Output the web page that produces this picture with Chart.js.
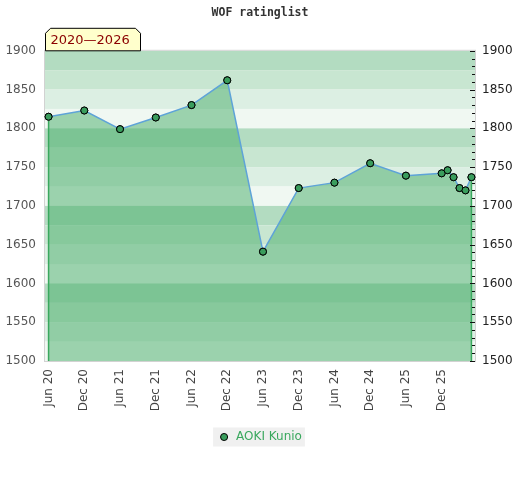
<!DOCTYPE html>
<html>
<head>
<meta charset="utf-8">
<script src="https://cdn.jsdelivr.net/npm/chart.js@4/dist/chart.umd.min.js"></script>
<style>
  html, body { margin: 0; padding: 0; background: #fff; }
  #wrap { width: 520px; height: 480px; }
</style>
</head>
<body>
<div id="wrap"><canvas id="rating"></canvas></div>
<script>
// rating list dates (YYYY-MM) and ratings
const listDates = ['2020-06', '2020-12', '2021-06', '2021-12', '2022-06', '2022-12',
  '2023-06', '2023-12', '2024-06', '2024-12', '2025-06', '2025-12',
  '2026-01', '2026-02', '2026-03', '2026-04', '2026-05'];
const ratings = [1815, 1823, 1799, 1814, 1830, 1862, 1641, 1723, 1730, 1755, 1739, 1742,
  1746, 1737, 1723, 1720, 1737];
const tickLabels = ['Jun 20', 'Dec 20', 'Jun 21', 'Dec 21', 'Jun 22', 'Dec 22',
  'Jun 23', 'Dec 23', 'Jun 24', 'Dec 24', 'Jun 25', 'Dec 25'];
const playerName = 'AOKI Kunio';
const periodLabel = '2020—2026';

// months since Jun 2020
function monthIndex(str) {
  const parts = str.split('-');
  return (parseInt(parts[0]) - 2020) * 12 + (parseInt(parts[1]) - 6);
}

const points = listDates.map((d, i) => ({x: monthIndex(d), y: ratings[i]}));

const bandShades = ['#b3dcc1', '#c8e6d1', '#dcefe3', '#f0f8f2'];

const backgroundPlugin = {
  id: 'bands',
  beforeDraw(chart) {
    const ctx = chart.ctx;
    // grey box behind the legend
    const hb = chart.legend.legendHitBoxes;
    if (hb && hb.length) {
      const b = hb[0];
      const cy = b.top + b.height / 2;
      ctx.save();
      ctx.fillStyle = '#f0f0f0';
      ctx.fillRect(b.left - 5, cy - 9.5, b.width + 8, 19);
      ctx.restore();
    }
  },
  beforeDatasetsDraw(chart) {
    const ctx = chart.ctx;
    const area = chart.chartArea;
    const y = chart.scales.y;
    ctx.save();
    ctx.beginPath();
    ctx.rect(area.left, area.top, area.right - area.left, area.bottom - area.top);
    ctx.clip();
    for (let v = y.max; v > y.min; v -= 25) {
      const k = Math.round((y.max - v) / 25) % 4;
      const top = y.getPixelForValue(v);
      const bot = y.getPixelForValue(v - 25);
      ctx.fillStyle = bandShades[k];
      ctx.fillRect(area.left, top, area.right - area.left, bot - top);
    }
    ctx.restore();
    ctx.save();
    ctx.strokeStyle = '#d2d2d2';
    ctx.lineWidth = 1;
    ctx.strokeRect(area.left - 0.5, area.top - 0.5, area.right - area.left + 1, area.bottom - area.top + 1);
    ctx.restore();
  },
  afterDatasetsDraw(chart) {
    const ctx = chart.ctx;
    const area = chart.chartArea;
    const meta = chart.getDatasetMeta(0);
    const first = meta.data[0];
    const last = meta.data[meta.data.length - 1];
    ctx.save();
    ctx.strokeStyle = '#3aa85e';
    ctx.lineWidth = 1.5;
    [first, last].forEach(p => {
      ctx.beginPath();
      ctx.moveTo(p.x, p.y + 4);
      ctx.lineTo(p.x, area.bottom);
      ctx.stroke();
    });
    // minor ticks for the right axis
    const y2 = chart.scales.y2;
    ctx.strokeStyle = '#111';
    ctx.lineWidth = 1;
    for (let v = y2.min; v <= y2.max; v += 10) {
      const py = Math.round(y2.getPixelForValue(v)) + 0.5;
      const len = v % 50 === 0 ? 5 : 3;
      ctx.beginPath();
      ctx.moveTo(area.right - len, py);
      ctx.lineTo(area.right, py);
      ctx.stroke();
    }
    ctx.restore();
    // redraw points above the edge lines
    meta.data.forEach(p => p.draw(ctx, area));
  },
  afterDraw(chart) {
    const ctx = chart.ctx;
    const area = chart.chartArea;
    const l = area.left + 0.5, r = area.left + 95.5, b = area.top, t = area.top - 22.5, c = 5;
    ctx.save();
    ctx.beginPath();
    ctx.moveTo(l, b);
    ctx.lineTo(l, t + c);
    ctx.lineTo(l + c, t);
    ctx.lineTo(r - c, t);
    ctx.lineTo(r, t + c);
    ctx.lineTo(r, b);
    ctx.closePath();
    ctx.fillStyle = '#ffffcc';
    ctx.fill();
    ctx.strokeStyle = '#000';
    ctx.lineWidth = 1;
    ctx.stroke();
    ctx.fillStyle = '#8b0000';
    ctx.font = '13px "DejaVu Sans"';
    ctx.textBaseline = 'middle';
    ctx.fillText(periodLabel, l + 5, t + 12);
    ctx.restore();
  }
};

const plainNumber = v => String(v);

const ctx = document.getElementById('rating').getContext('2d');
new Chart(ctx, {
  type: 'line',
  data: {
    datasets: [{
      label: playerName,
      data: points,
      borderColor: '#5ea3d8',
      borderWidth: 1.5,
      backgroundColor: 'rgba(69, 172, 103, 0.5)',
      fill: 'start',
      tension: 0,
      pointRadius: 3.5,
      pointBackgroundColor: '#3a9d5d',
      pointBorderColor: '#000',
      pointBorderWidth: 1,
      clip: false
    }]
  },
  options: {
    responsive: true,
    maintainAspectRatio: false,
    animation: false,
    layout: { padding: { bottom: 27 } },
    plugins: {
      title: {
        display: true,
        text: 'WOF ratinglist',
        color: '#333',
        font: { family: '"DejaVu Sans Mono"', weight: 'bold', size: 11.5 },
        padding: { top: 6, bottom: 31 }
      },
      legend: {
        position: 'bottom',
        labels: {
          usePointStyle: true,
          pointStyle: 'circle',
          boxWidth: 12,
          boxHeight: 5,
          color: '#3aa85e',
          font: { family: '"DejaVu Sans"', size: 12 },
          padding: 10
        }
      },
      tooltip: { enabled: false }
    },
    scales: {
      x: {
        type: 'linear',
        min: -0.6,
        max: 71.6,
        afterBuildTicks(scale) {
          scale.ticks = tickLabels.map((t, i) => ({value: i * 6}));
        },
        afterFit(scale) { scale.height = 60; },
        ticks: {
          minRotation: 90,
          maxRotation: 90,
          padding: 8,
          color: '#444',
          font: { family: '"DejaVu Sans"', size: 12 },
          callback: (v, i) => tickLabels[i]
        },
        grid: { display: false, drawTicks: false },
        border: { display: false }
      },
      y: {
        position: 'left',
        min: 1500,
        max: 1900,
        afterFit(scale) { scale.width = 45; },
        ticks: {
          stepSize: 50,
          padding: 9,
          color: '#555',
          font: { family: '"DejaVu Sans"', size: 12 },
          callback: plainNumber
        },
        grid: { display: false, drawTicks: false },
        border: { display: false }
      },
      y2: {
        position: 'right',
        min: 1500,
        max: 1900,
        afterFit(scale) { scale.width = 45; },
        ticks: {
          stepSize: 50,
          padding: 7,
          color: '#222',
          font: { family: '"DejaVu Sans"', size: 12 },
          callback: plainNumber
        },
        grid: { display: false, drawTicks: false },
        border: { display: false }
      }
    }
  },
  plugins: [backgroundPlugin]
});
</script>
</body>
</html>
